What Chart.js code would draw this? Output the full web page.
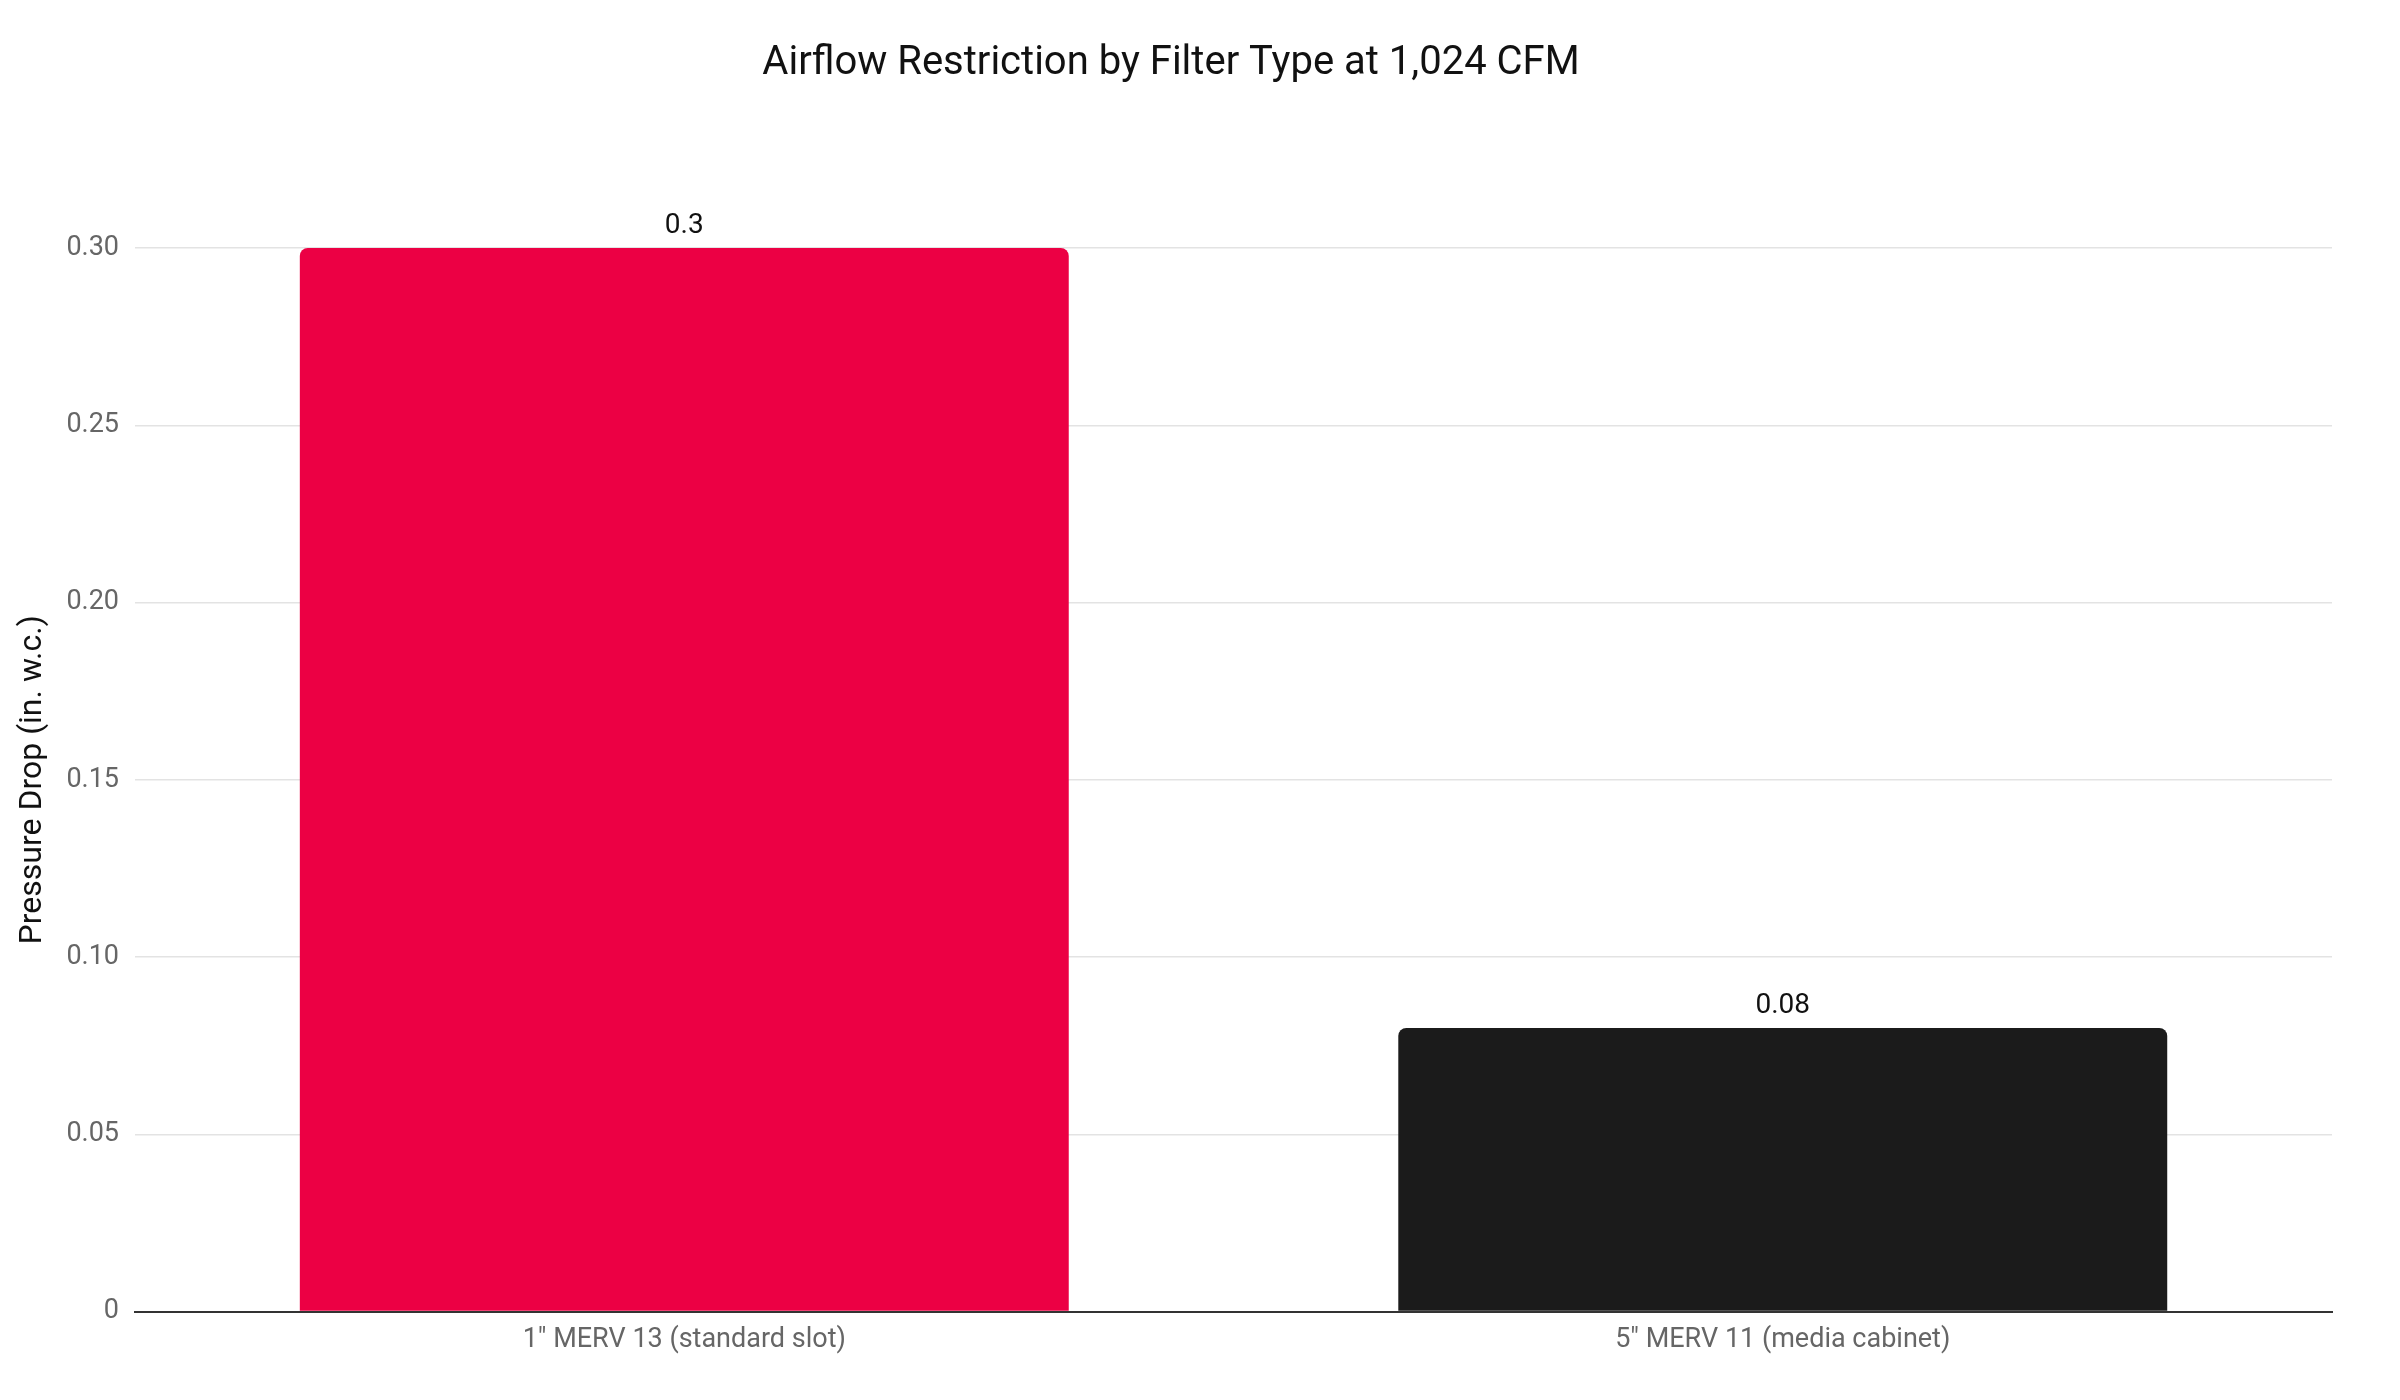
<!DOCTYPE html>
<html><head><meta charset="utf-8">
<script src="https://cdn.jsdelivr.net/npm/chart.js@4"></script>
<style>html,body{margin:0;padding:0;background:#fff}#w{width:2400px;height:1400px}</style>
</head><body><div id="w"><canvas id="c"></canvas></div>
<script>
const categories = ['1" MERV 13 (standard slot)', '5" MERV 11 (media cabinet)'];
const values = [0.3, 0.08];
const barColors = ['#EC0044', '#1B1B1B'];
const yTicks = [0, 0.05, 0.1, 0.15, 0.2, 0.25, 0.3];

const labelPlugin = {
  id: 'vals',
  afterDatasetsDraw(chart) {
    const ctx = chart.ctx;
    const meta = chart.getDatasetMeta(0);
    ctx.save();
    ctx.font = '28px Roboto, "Liberation Sans", sans-serif';
    ctx.fillStyle = '#111';
    ctx.textAlign = 'center';
    ctx.textBaseline = 'bottom';
    meta.data.forEach((el, i) => {
      ctx.fillText(String(values[i]), el.x, el.y - 8);
    });
    ctx.restore();
  }
};

new Chart(document.getElementById('c'), {
  type: 'bar',
  data: { labels: categories, datasets: [{ data: values, backgroundColor: barColors, borderRadius: {topLeft: 8, topRight: 8}, borderSkipped: 'bottom', barPercentage: 0.7, categoryPercentage: 1 }] },
  options: {
    responsive: true, maintainAspectRatio: false, devicePixelRatio: 1, animation: false,
    layout: { padding: { top: 40, right: 68, left: 10, bottom: 40 } },
    plugins: {
      legend: { display: false }, tooltip: { enabled: false },
      title: { display: true, text: 'Airflow Restriction by Filter Type at 1,024 CFM', color: '#111',
        font: { family: 'Roboto, "Liberation Sans", sans-serif', size: 40, weight: 'normal' }, padding: { top: 0, bottom: 160 } }
    },
    scales: {
      x: { grid: { display: false }, border: { color: '#333', width: 2 },
        ticks: { color: '#666', font: { family: 'Roboto, "Liberation Sans", sans-serif', size: 27 }, padding: 4 } },
      y: { min: 0, max: 0.3, afterBuildTicks(a){ a.ticks = yTicks.map(v=>({value:v})); },
        grid: { color: '#e3e3e3', lineWidth: 1.5, drawTicks: true, tickLength: 12, tickColor: '#fff' }, border: { display: false },
        ticks: { color: '#666', font: { family: 'Roboto, "Liberation Sans", sans-serif', size: 27 }, padding: 4 },
        title: { display: true, text: 'Pressure Drop (in. w.c.)', color: '#111', font: { family: 'Roboto, "Liberation Sans", sans-serif', size: 32 }, padding: { bottom: 10 } } }
    }
  },
  plugins: [labelPlugin]
});
</script></body></html>
